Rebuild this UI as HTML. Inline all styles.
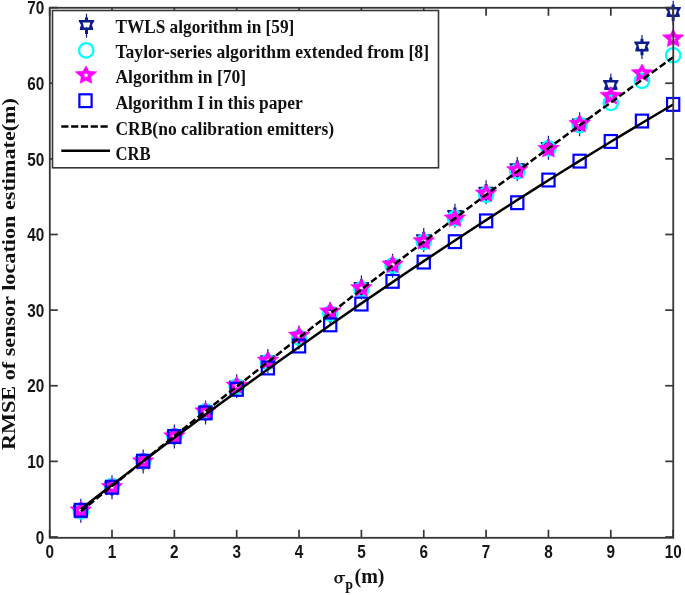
<!DOCTYPE html>
<html><head><meta charset="utf-8"><style>
html,body{margin:0;padding:0;background:#fff;width:685px;height:595px;overflow:hidden}
svg{display:block;will-change:transform}
.tk{font-family:"Liberation Sans",sans-serif;font-weight:bold;font-size:17.8px;fill:#161616}
.lg{font-family:"Liberation Serif",serif;font-weight:bold;font-size:18.8px;fill:#111}
.lb{font-family:"Liberation Serif",serif;font-weight:bold;fill:#111}
</style></head><body>
<svg width="685" height="595" viewBox="0 0 685 595">
<defs>
<g id="hx"><path d="M-1.5,-8.1 L1.5,-8.1 L1.6,-5.5 L7.8,-5.5 L7.6,-3.9 L5.4,-0.6 L6.6,2.4 L6.6,4.6 L1.5,4.6 L1.5,8.4 L-1.5,8.4 L-1.5,4.6 L-6.6,4.6 L-6.6,2.4 L-5.4,-0.6 L-7.6,-3.9 L-7.8,-5.5 L-1.6,-5.5 Z M-3.8,-3.0 L3.8,-3.0 L2.5,2.1 L0.6,2.1 L0,1.3 L-0.6,2.1 L-2.5,2.1 Z" fill="#0f1d8c" fill-rule="evenodd"/><path d="M0,-11.8 V-7.5 M0,7.5 V12.2" stroke="#0f1d8c" stroke-width="1.2"/></g>
<circle id="ci" r="7.2" fill="none" stroke="#00ffff" stroke-width="2.3"/>
<g id="st"><path d="M0.00,-9.40 L2.94,-4.05 L10.75,-3.49 L4.76,1.55 L5.82,8.01 L0.00,5.00 L-5.82,8.01 L-4.76,1.55 L-10.75,-3.49 L-2.94,-4.05 Z M0.00,-3.30 L0.94,-1.29 L3.14,-1.02 L1.52,0.49 L1.94,2.67 L0.00,1.60 L-1.94,2.67 L-1.52,0.49 L-3.14,-1.02 L-0.94,-1.29 Z" fill="#ff00ff" fill-rule="evenodd" stroke="#ff00ff" stroke-width="0.6" stroke-linejoin="round"/></g>
<rect id="sq" x="-6.1" y="-6.4" width="12.2" height="12.8" fill="none" stroke="#0000ff" stroke-width="2.2"/>
</defs>

<use href="#hx" x="80.83" y="510.53"/>
<use href="#hx" x="112.00" y="487.08"/>
<use href="#hx" x="143.18" y="461.37"/>
<use href="#hx" x="174.35" y="436.41"/>
<use href="#hx" x="205.53" y="412.21"/>
<use href="#hx" x="236.70" y="386.04"/>
<use href="#hx" x="267.88" y="360.78"/>
<use href="#hx" x="299.05" y="337.34"/>
<use href="#hx" x="330.22" y="313.89"/>
<use href="#hx" x="361.40" y="287.42"/>
<use href="#hx" x="392.57" y="265.49"/>
<use href="#hx" x="423.75" y="239.77"/>
<use href="#hx" x="454.93" y="215.57"/>
<use href="#hx" x="486.10" y="192.13"/>
<use href="#hx" x="517.27" y="168.68"/>
<use href="#hx" x="548.45" y="147.51"/>
<use href="#hx" x="579.62" y="124.06"/>
<use href="#hx" x="610.80" y="85.49"/>
<use href="#hx" x="641.98" y="46.92"/>
<use href="#hx" x="673.15" y="12.51"/>
<use href="#ci" x="80.83" y="511.40"/>
<use href="#ci" x="112.00" y="486.13"/>
<use href="#ci" x="143.18" y="461.02"/>
<use href="#ci" x="174.35" y="436.05"/>
<use href="#ci" x="205.53" y="411.24"/>
<use href="#ci" x="236.70" y="386.58"/>
<use href="#ci" x="267.88" y="362.07"/>
<use href="#ci" x="299.05" y="337.71"/>
<use href="#ci" x="330.22" y="313.51"/>
<use href="#ci" x="361.40" y="289.45"/>
<use href="#ci" x="392.57" y="265.55"/>
<use href="#ci" x="423.75" y="241.80"/>
<use href="#ci" x="454.93" y="218.20"/>
<use href="#ci" x="486.10" y="194.75"/>
<use href="#ci" x="517.27" y="171.45"/>
<use href="#ci" x="548.45" y="148.31"/>
<use href="#ci" x="579.62" y="125.19"/>
<use href="#ci" x="610.80" y="102.88"/>
<use href="#ci" x="641.98" y="80.95"/>
<use href="#ci" x="673.15" y="55.24"/>
<use href="#st" x="80.83" y="510.53"/>
<use href="#st" x="112.00" y="487.08"/>
<use href="#st" x="143.18" y="461.37"/>
<use href="#st" x="174.35" y="436.41"/>
<use href="#st" x="205.53" y="411.45"/>
<use href="#st" x="236.70" y="385.74"/>
<use href="#st" x="267.88" y="360.78"/>
<use href="#st" x="299.05" y="335.82"/>
<use href="#st" x="330.22" y="311.62"/>
<use href="#st" x="361.40" y="288.18"/>
<use href="#st" x="392.57" y="264.73"/>
<use href="#st" x="423.75" y="241.29"/>
<use href="#st" x="454.93" y="218.60"/>
<use href="#st" x="486.10" y="193.64"/>
<use href="#st" x="517.27" y="170.19"/>
<use href="#st" x="548.45" y="149.02"/>
<use href="#st" x="579.62" y="124.06"/>
<use href="#st" x="610.80" y="96.08"/>
<use href="#st" x="641.98" y="73.39"/>
<use href="#st" x="673.15" y="38.60"/>
<use href="#sq" x="80.83" y="510.30"/>
<use href="#sq" x="112.00" y="487.24"/>
<use href="#sq" x="143.18" y="461.22"/>
<use href="#sq" x="174.35" y="436.49"/>
<use href="#sq" x="205.53" y="412.89"/>
<use href="#sq" x="236.70" y="389.37"/>
<use href="#sq" x="267.88" y="367.97"/>
<use href="#sq" x="299.05" y="346.03"/>
<use href="#sq" x="330.22" y="324.86"/>
<use href="#sq" x="361.40" y="304.06"/>
<use href="#sq" x="392.57" y="281.37"/>
<use href="#sq" x="423.75" y="262.08"/>
<use href="#sq" x="454.93" y="241.66"/>
<use href="#sq" x="486.10" y="220.87"/>
<use href="#sq" x="517.27" y="202.72"/>
<use href="#sq" x="548.45" y="180.03"/>
<use href="#sq" x="579.62" y="161.12"/>
<use href="#sq" x="610.80" y="141.46"/>
<use href="#sq" x="641.98" y="121.04"/>
<use href="#sq" x="673.15" y="104.40"/>
<polyline fill="none" stroke="#000" stroke-width="2.5" stroke-dasharray="7 3" points="80.83,511.40 96.41,498.74 112.00,486.13 127.59,473.55 143.18,461.02 158.76,448.51 174.35,436.05 189.94,423.63 205.53,411.24 221.11,398.89 236.70,386.58 252.29,374.31 267.88,362.07 283.46,349.87 299.05,337.71 314.64,325.59 330.22,313.51 345.81,301.46 361.40,289.45 376.99,277.48 392.57,265.55 408.16,253.65 423.75,241.80 439.34,229.98 454.93,218.20 470.51,206.45 486.10,194.75 501.69,183.08 517.27,171.45 532.86,159.86 548.45,148.31 564.04,136.79 579.62,125.31 595.21,113.87 610.80,102.47 626.39,91.11 641.98,79.78 657.56,68.49 673.15,57.24"/>
<polyline fill="none" stroke="#000" stroke-width="2.5" points="80.83,509.18 96.41,497.08 112.00,485.06 127.59,473.12 143.18,461.26 158.76,449.47 174.35,437.77 189.94,426.14 205.53,414.59 221.11,403.11 236.70,391.72 252.29,380.41 267.88,369.17 283.46,358.01 299.05,346.93 314.64,335.93 330.22,325.01 345.81,314.16 361.40,303.40 376.99,292.71 392.57,282.10 408.16,271.57 423.75,261.11 439.34,250.74 454.93,240.44 470.51,230.22 486.10,220.08 501.69,210.02 517.27,200.04 532.86,190.14 548.45,180.31 564.04,170.56 579.62,160.89 595.21,151.30 610.80,141.79 626.39,132.35 641.98,123.00 657.56,113.72 673.15,104.52"/>
<line x1="49.65" y1="537.8" x2="49.65" y2="529.8" stroke="#363636" stroke-width="1.7"/>
<line x1="49.65" y1="7.790000000000032" x2="49.65" y2="15.790000000000031" stroke="#363636" stroke-width="1.7"/>
<line x1="112.00" y1="537.8" x2="112.00" y2="529.8" stroke="#363636" stroke-width="1.7"/>
<line x1="112.00" y1="7.790000000000032" x2="112.00" y2="15.790000000000031" stroke="#363636" stroke-width="1.7"/>
<line x1="174.35" y1="537.8" x2="174.35" y2="529.8" stroke="#363636" stroke-width="1.7"/>
<line x1="174.35" y1="7.790000000000032" x2="174.35" y2="15.790000000000031" stroke="#363636" stroke-width="1.7"/>
<line x1="236.70" y1="537.8" x2="236.70" y2="529.8" stroke="#363636" stroke-width="1.7"/>
<line x1="236.70" y1="7.790000000000032" x2="236.70" y2="15.790000000000031" stroke="#363636" stroke-width="1.7"/>
<line x1="299.05" y1="537.8" x2="299.05" y2="529.8" stroke="#363636" stroke-width="1.7"/>
<line x1="299.05" y1="7.790000000000032" x2="299.05" y2="15.790000000000031" stroke="#363636" stroke-width="1.7"/>
<line x1="361.40" y1="537.8" x2="361.40" y2="529.8" stroke="#363636" stroke-width="1.7"/>
<line x1="361.40" y1="7.790000000000032" x2="361.40" y2="15.790000000000031" stroke="#363636" stroke-width="1.7"/>
<line x1="423.75" y1="537.8" x2="423.75" y2="529.8" stroke="#363636" stroke-width="1.7"/>
<line x1="423.75" y1="7.790000000000032" x2="423.75" y2="15.790000000000031" stroke="#363636" stroke-width="1.7"/>
<line x1="486.10" y1="537.8" x2="486.10" y2="529.8" stroke="#363636" stroke-width="1.7"/>
<line x1="486.10" y1="7.790000000000032" x2="486.10" y2="15.790000000000031" stroke="#363636" stroke-width="1.7"/>
<line x1="548.45" y1="537.8" x2="548.45" y2="529.8" stroke="#363636" stroke-width="1.7"/>
<line x1="548.45" y1="7.790000000000032" x2="548.45" y2="15.790000000000031" stroke="#363636" stroke-width="1.7"/>
<line x1="610.80" y1="537.8" x2="610.80" y2="529.8" stroke="#363636" stroke-width="1.7"/>
<line x1="610.80" y1="7.790000000000032" x2="610.80" y2="15.790000000000031" stroke="#363636" stroke-width="1.7"/>
<line x1="673.15" y1="537.8" x2="673.15" y2="529.8" stroke="#363636" stroke-width="1.7"/>
<line x1="673.15" y1="7.790000000000032" x2="673.15" y2="15.790000000000031" stroke="#363636" stroke-width="1.7"/>
<line x1="49.8" y1="537.00" x2="57.8" y2="537.00" stroke="#363636" stroke-width="1.7"/>
<line x1="673.25" y1="537.00" x2="665.25" y2="537.00" stroke="#363636" stroke-width="1.7"/>
<line x1="49.8" y1="461.37" x2="57.8" y2="461.37" stroke="#363636" stroke-width="1.7"/>
<line x1="673.25" y1="461.37" x2="665.25" y2="461.37" stroke="#363636" stroke-width="1.7"/>
<line x1="49.8" y1="385.74" x2="57.8" y2="385.74" stroke="#363636" stroke-width="1.7"/>
<line x1="673.25" y1="385.74" x2="665.25" y2="385.74" stroke="#363636" stroke-width="1.7"/>
<line x1="49.8" y1="310.11" x2="57.8" y2="310.11" stroke="#363636" stroke-width="1.7"/>
<line x1="673.25" y1="310.11" x2="665.25" y2="310.11" stroke="#363636" stroke-width="1.7"/>
<line x1="49.8" y1="234.48" x2="57.8" y2="234.48" stroke="#363636" stroke-width="1.7"/>
<line x1="673.25" y1="234.48" x2="665.25" y2="234.48" stroke="#363636" stroke-width="1.7"/>
<line x1="49.8" y1="158.85" x2="57.8" y2="158.85" stroke="#363636" stroke-width="1.7"/>
<line x1="673.25" y1="158.85" x2="665.25" y2="158.85" stroke="#363636" stroke-width="1.7"/>
<line x1="49.8" y1="83.22" x2="57.8" y2="83.22" stroke="#363636" stroke-width="1.7"/>
<line x1="673.25" y1="83.22" x2="665.25" y2="83.22" stroke="#363636" stroke-width="1.7"/>
<line x1="49.8" y1="7.59" x2="57.8" y2="7.59" stroke="#363636" stroke-width="1.7"/>
<line x1="673.25" y1="7.59" x2="665.25" y2="7.59" stroke="#363636" stroke-width="1.7"/>
<rect x="49.8" y="7.790000000000032" width="623.45" height="530.0099999999999" fill="none" stroke="#363636" stroke-width="1.8"/>
<text class="tk" transform="translate(49.65,557.6) scale(0.86,1)" text-anchor="middle">0</text>
<text class="tk" transform="translate(112.00,557.6) scale(0.86,1)" text-anchor="middle">1</text>
<text class="tk" transform="translate(174.35,557.6) scale(0.86,1)" text-anchor="middle">2</text>
<text class="tk" transform="translate(236.70,557.6) scale(0.86,1)" text-anchor="middle">3</text>
<text class="tk" transform="translate(299.05,557.6) scale(0.86,1)" text-anchor="middle">4</text>
<text class="tk" transform="translate(361.40,557.6) scale(0.86,1)" text-anchor="middle">5</text>
<text class="tk" transform="translate(423.75,557.6) scale(0.86,1)" text-anchor="middle">6</text>
<text class="tk" transform="translate(486.10,557.6) scale(0.86,1)" text-anchor="middle">7</text>
<text class="tk" transform="translate(548.45,557.6) scale(0.86,1)" text-anchor="middle">8</text>
<text class="tk" transform="translate(610.80,557.6) scale(0.86,1)" text-anchor="middle">9</text>
<text class="tk" transform="translate(673.15,557.6) scale(0.86,1)" text-anchor="middle">10</text>
<text class="tk" transform="translate(44.3,543.70) scale(0.86,1)" text-anchor="end">0</text>
<text class="tk" transform="translate(44.3,468.07) scale(0.86,1)" text-anchor="end">10</text>
<text class="tk" transform="translate(44.3,392.44) scale(0.86,1)" text-anchor="end">20</text>
<text class="tk" transform="translate(44.3,316.81) scale(0.86,1)" text-anchor="end">30</text>
<text class="tk" transform="translate(44.3,241.18) scale(0.86,1)" text-anchor="end">40</text>
<text class="tk" transform="translate(44.3,165.55) scale(0.86,1)" text-anchor="end">50</text>
<text class="tk" transform="translate(44.3,89.92) scale(0.86,1)" text-anchor="end">60</text>
<text class="tk" transform="translate(44.3,14.29) scale(0.86,1)" text-anchor="end">70</text>
<rect x="52.5" y="10.5" width="386" height="157.3" fill="#fff" stroke="#363636" stroke-width="1.6"/>
<use href="#hx" x="86.5" y="25.5"/>
<use href="#ci" x="86.2" y="50.4"/>
<use href="#st" x="86" y="75.3"/>
<use href="#sq" x="85.5" y="100.7"/>
<line x1="61.3" y1="126.6" x2="108" y2="126.6" stroke="#000" stroke-width="2.5" stroke-dasharray="7.2 2.6"/>
<line x1="61.3" y1="150.8" x2="110" y2="150.8" stroke="#000" stroke-width="2.5"/>
<text class="lg" transform="translate(115.4,32.6) scale(0.9187,1)">TWLS algorithm in [59]</text>
<text class="lg" transform="translate(115.4,57.9) scale(0.9379,1)">Taylor-series algorithm extended from [8]</text>
<text class="lg" transform="translate(115.4,83) scale(0.9348,1)">Algorithm in [70]</text>
<text class="lg" transform="translate(115.4,109.1) scale(0.9298,1)">Algorithm I in this paper</text>
<text class="lg" transform="translate(115.4,134.6) scale(0.9318,1)">CRB(no calibration emitters)</text>
<text class="lg" transform="translate(115.4,160.2) scale(0.8884,1)">CRB</text>
<text class="lb" font-size="18.5" transform="translate(14.8,450) rotate(-90)" textLength="352" lengthAdjust="spacingAndGlyphs">RMSE of sensor location estimate(m)</text>
<path d="M338.6,574.9 C335.9,574.9 334.3,576.9 334.3,579.3 C334.3,581.7 336.0,583.4 338.4,583.4 C341.0,583.4 342.6,581.4 342.6,579.0 C342.6,577.9 342.2,576.9 341.5,576.3 L345.1,576.3 L345.1,574.9 Z M338.5,575.9 C339.9,575.9 340.4,577.6 340.4,579.3 C340.4,581.1 339.8,582.5 338.5,582.5 C337.1,582.5 336.5,580.9 336.5,579.2 C336.5,577.4 337.1,575.9 338.5,575.9 Z" fill="#111" fill-rule="evenodd"/>
<text class="lb" font-size="16" transform="translate(345,593) scale(0.8,1)">P</text>
<text class="lb" font-size="20" transform="translate(354.5,583) scale(1.0,1)">(m)</text>
</svg></body></html>
